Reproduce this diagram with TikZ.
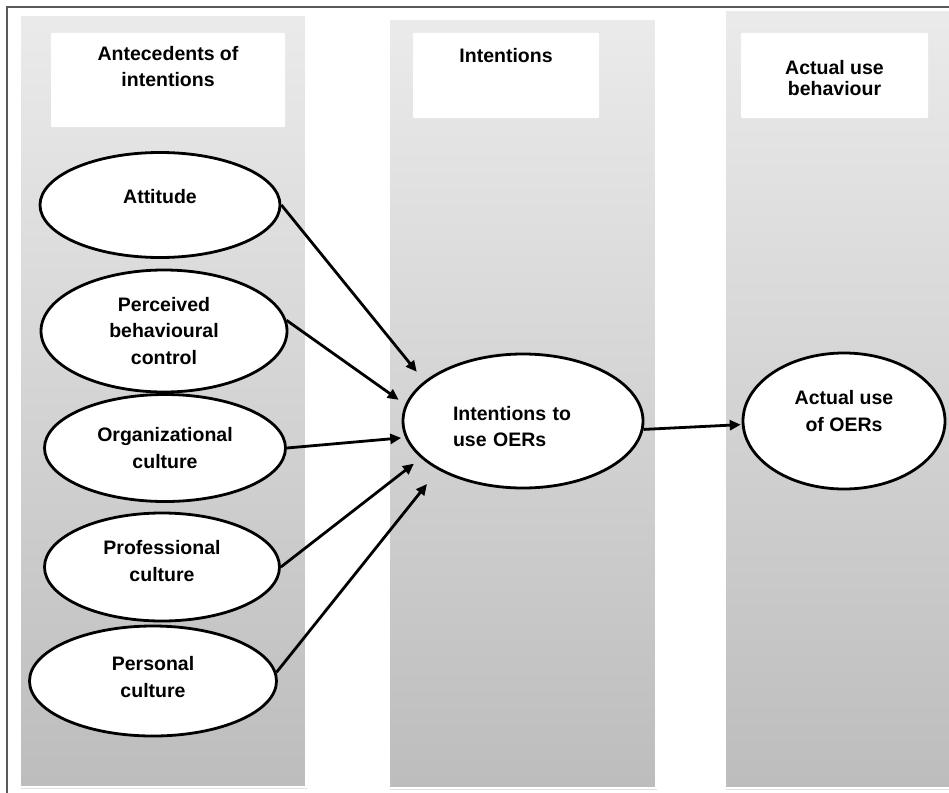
\documentclass[tikz,border=0pt]{standalone}
\usepackage{fontspec}
\setmainfont{Liberation Sans}
\usetikzlibrary{arrows.meta}
\usetikzlibrary{positioning}
\usetikzlibrary{shapes}
\usetikzlibrary{shadows}
\tikzset{
	align=center,
	column/.style={
		top color=black!8,
		bottom color=black!26,
		draw=white,
		line width=1.5pt,
		drop shadow={opacity=0.25, shadow xshift=1pt, shadow yshift=-1.5pt},
	},
	header/.style={
		fill=white,
		rounded corners=1pt,
	},
	headtext/.style={
		inner sep=0pt,
		font=\bfseries\fontsize{19.5}{26.5}\selectfont,
	},
	construct/.style={
		draw,
		ellipse,
		fill=white,
		line width=2.8pt,
		inner sep=0pt,
		font=\bfseries\fontsize{19.5}{26.5}\selectfont,
	},
	link/.style={
		line width=2.8pt,
		-{Triangle[length=11pt, width=10pt]}
	},
	frame/.style={
		draw=black!65,
		line width=2pt,
	},
}
\begin{document}
\begin{tikzpicture}[x=1pt, y=-1pt]
		\clip (0,0) rectangle (949,792);

		% columns
		\path[column] (20,15) rectangle (306,787);
		\path[column] (389,19) rectangle (656,788);
		\path[column] (725,10) rectangle (960,788);
		\draw[frame] (7,800) |- (960,7);

		\node[header, minimum width=234, minimum height=94] (hant) at (168,80) {};
		\node[header, minimum width=186, minimum height=85] (hint) at (506,75.5) {};
		\node[header, minimum width=187, minimum height=85] (hact) at (834.5,75.5) {};

		\node[headtext, below=13pt of hant.north] (tant) {Antecedents of\\intentions};
		\node[headtext, below=15pt of hint.north] (tint) {Intentions};
		\node[headtext, below=27pt of hact.north] (tact) {Actual use\\[-5.5pt]behaviour};

		% constructs
		\node[construct, minimum width=240, minimum height=105, text depth=18pt] (att) at (160,205) {Attitude};
		\node[construct, minimum width=246, minimum height=122] (pbc) at (164,331) {Perceived\\behavioural\\control};
		\node[construct, minimum width=241, minimum height=107] (org) at (165,448) {Organizational\\culture};
		\node[construct, minimum width=235, minimum height=108, text depth=12pt] (prof) at (162,567) {Professional\\culture};
		\node[construct, minimum width=247, minimum height=110, text depth=8pt] (pers) at (153,681) {Personal\\culture};

		\node[construct, minimum width=240, minimum height=134, align=left, text width=140pt, text depth=16pt] (intent) at (523,421) {Intentions to\\use OERs};
		\node[construct, minimum width=202, minimum height=136, text depth=20pt] (actual) at (844,421) {Actual use\\of OERs};

		\draw[link, shorten >=12pt] (att.east) -- (intent.158.5);
		\draw[link, shorten >=8pt] (pbc.5) -- (intent.172.8);
		\draw[link, shorten >=4pt] (org.east) -- (intent.188);
		\draw[link, shorten >=9pt] (prof.east) -- (intent.200);
		\draw[link, shorten >=18pt] (pers.4) -- (intent.210.6);

		\draw[link, shorten >=1pt] (intent.-4) -- (actual.182);
	\end{tikzpicture}
\end{document}
